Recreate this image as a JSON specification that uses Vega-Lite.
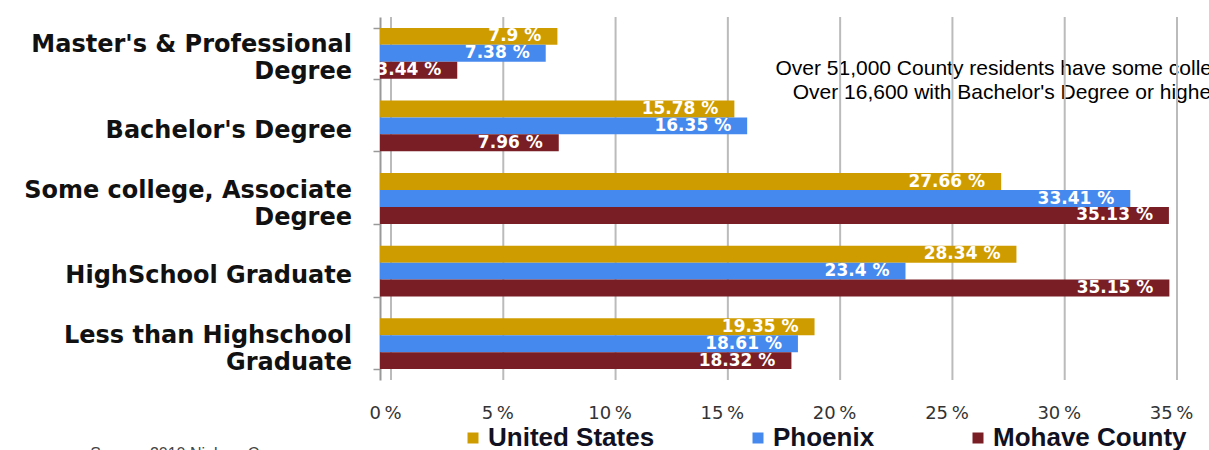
{
  "$schema": "https://vega.github.io/schema/vega-lite/v6.json",
  "width": 786,
  "height": 363,
  "autosize": {"type": "none"},
  "padding": {"left": 380, "top": 17, "right": 43, "bottom": 70},
  "background": "white",
  "config": {"view": {"stroke": null}},
  "datasets": {
    "edu": [
      {"cat": "Master's & Professional|Degree", "series": "United States", "value": 7.9},
      {"cat": "Master's & Professional|Degree", "series": "Phoenix", "value": 7.38},
      {"cat": "Master's & Professional|Degree", "series": "Mohave County", "value": 3.44},
      {"cat": "Bachelor's Degree", "series": "United States", "value": 15.78},
      {"cat": "Bachelor's Degree", "series": "Phoenix", "value": 16.35},
      {"cat": "Bachelor's Degree", "series": "Mohave County", "value": 7.96},
      {"cat": "Some college, Associate|Degree", "series": "United States", "value": 27.66},
      {"cat": "Some college, Associate|Degree", "series": "Phoenix", "value": 33.41},
      {"cat": "Some college, Associate|Degree", "series": "Mohave County", "value": 35.13},
      {"cat": "HighSchool Graduate", "series": "United States", "value": 28.34},
      {"cat": "HighSchool Graduate", "series": "Phoenix", "value": 23.4},
      {"cat": "HighSchool Graduate", "series": "Mohave County", "value": 35.15},
      {"cat": "Less than Highschool|Graduate", "series": "United States", "value": 19.35},
      {"cat": "Less than Highschool|Graduate", "series": "Phoenix", "value": 18.61},
      {"cat": "Less than Highschool|Graduate", "series": "Mohave County", "value": 18.32}
    ],
    "cats": [
      {"cat": "Master's & Professional|Degree"},
      {"cat": "Bachelor's Degree"},
      {"cat": "Some college, Associate|Degree"},
      {"cat": "HighSchool Graduate"},
      {"cat": "Less than Highschool|Graduate"}
    ],
    "grid": [{"value": 0}, {"value": 5}, {"value": 10}, {"value": 15}, {"value": 20}, {"value": 25}, {"value": 30}, {"value": 35}],
    "note": [{"cat": "Master's & Professional|Degree", "value": 27.85}]
  },
  "layer": [
    {
      "data": {"name": "note"},
      "mark": {
        "type": "text",
        "text": ["Over 51,000 County residents have some college", "Over 16,600 with Bachelor's Degree or higher"],
        "font": "Liberation Sans",
        "fontSize": 21,
        "color": "#000",
        "align": "center",
        "baseline": "middle",
        "lineHeight": 24,
        "dy": 16
      },
      "encoding": {
        "x": {"field": "value", "type": "quantitative"},
        "y": {"field": "cat", "type": "nominal", "sort": null}
      }
    },
    {
      "data": {"name": "grid"},
      "mark": {"type": "rule", "color": "#bbbbbb", "strokeWidth": 2, "xOffset": 11},
      "encoding": {
        "x": {"field": "value", "type": "quantitative"}
      }
    },
    {
      "data": {"name": "edu"},
      "mark": {"type": "bar"},
      "encoding": {
        "y": {
          "field": "cat",
          "type": "nominal",
          "sort": null,
          "scale": {
            "domain": ["Master's & Professional|Degree", "Bachelor's Degree", "Some college, Associate|Degree", "HighSchool Graduate", "Less than Highschool|Graduate"],
            "paddingInner": 0.3,
            "paddingOuter": 0.15
          },
          "axis": {
            "title": null,
            "labels": false,
            "tickBand": "extent",
            "tickSize": 7,
            "tickColor": "#999",
            "tickWidth": 1.5,
            "domainColor": "#999",
            "domainWidth": 2
          }
        },
        "x": {
          "field": "value",
          "type": "quantitative",
          "scale": {"domain": [0, 35], "nice": false},
          "axis": {
            "title": null,
            "values": [0, 5, 10, 15, 20, 25, 30, 35],
            "labelExpr": "datum.value + '\u2009%'",
            "labelFlush": false,
            "domain": false,
            "ticks": false,
            "grid": false,
            "labelFont": "DejaVu Sans",
            "labelFontSize": 18,
            "labelColor": "#333",
            "labelPadding": 24,
            "labelOffset": 5
          }
        },
        "yOffset": {
          "field": "series",
          "type": "nominal",
          "sort": ["United States", "Phoenix", "Mohave County"],
          "scale": {"paddingInner": 0, "paddingOuter": 0}
        },
        "color": {
          "field": "series",
          "type": "nominal",
          "sort": ["United States", "Phoenix", "Mohave County"],
          "scale": {
            "domain": ["United States", "Phoenix", "Mohave County"],
            "range": ["#CF9C00", "#4689EE", "#7A1E25"]
          },
          "legend": {
            "orient": "none",
            "legendX": 80,
            "legendY": 408,
            "direction": "horizontal",
            "title": null,
            "symbolType": "square",
            "symbolSize": 121,
            "symbolStrokeWidth": 0,
            "labelFont": "Liberation Sans",
            "labelFontWeight": "bold",
            "labelFontSize": 26,
            "labelColor": "#111122",
            "labelLimit": 400,
            "labelOffset": 2,
            "columnPadding": 90
          }
        }
      }
    },
    {
      "data": {"name": "edu"},
      "transform": [{"calculate": "datum.value + ' %'", "as": "label"}],
      "mark": {
        "type": "text",
        "align": "right",
        "baseline": "middle",
        "dx": -16,
        "color": "white",
        "font": "DejaVu Sans",
        "fontWeight": "bold",
        "fontSize": 17
      },
      "encoding": {
        "y": {"field": "cat", "type": "nominal", "sort": null},
        "x": {"field": "value", "type": "quantitative"},
        "yOffset": {"field": "series", "type": "nominal", "sort": ["United States", "Phoenix", "Mohave County"]},
        "text": {"field": "label"}
      }
    },
    {
      "data": {"name": "cats"},
      "transform": [
        {"filter": "indexof(datum.cat, '|') >= 0"},
        {"calculate": "split(datum.cat, '|')", "as": "lines"}
      ],
      "mark": {
        "type": "text",
        "align": "right",
        "baseline": "middle",
        "dx": -28,
        "dy": -8,
        "lineHeight": 27,
        "font": "DejaVu Sans",
        "fontWeight": "bold",
        "fontSize": 24,
        "color": "#111"
      },
      "encoding": {
        "y": {"field": "cat", "type": "nominal", "sort": null},
        "x": {"datum": 0, "type": "quantitative"},
        "text": {"field": "lines"}
      }
    },
    {
      "data": {"name": "cats"},
      "transform": [
        {"filter": "indexof(datum.cat, '|') < 0"}
      ],
      "mark": {
        "type": "text",
        "align": "right",
        "baseline": "middle",
        "dx": -28,
        "dy": 5,
        "font": "DejaVu Sans",
        "fontWeight": "bold",
        "fontSize": 24,
        "color": "#111"
      },
      "encoding": {
        "y": {"field": "cat", "type": "nominal", "sort": null},
        "x": {"datum": 0, "type": "quantitative"},
        "text": {"field": "cat"}
      }
    },
    {
      "data": {"name": "cats"},
      "transform": [
        {"filter": "datum.cat == 'Less than Highschool|Graduate'"}
      ],
      "mark": {
        "type": "text",
        "text": "Source: 2010 Nielsen Company",
        "font": "Liberation Sans",
        "fontSize": 16,
        "color": "#444",
        "align": "left",
        "baseline": "top",
        "dy": 102
      },
      "encoding": {
        "x": {"datum": -12.9, "type": "quantitative"},
        "y": {"field": "cat", "type": "nominal", "sort": null}
      }
    }
  ]
}
